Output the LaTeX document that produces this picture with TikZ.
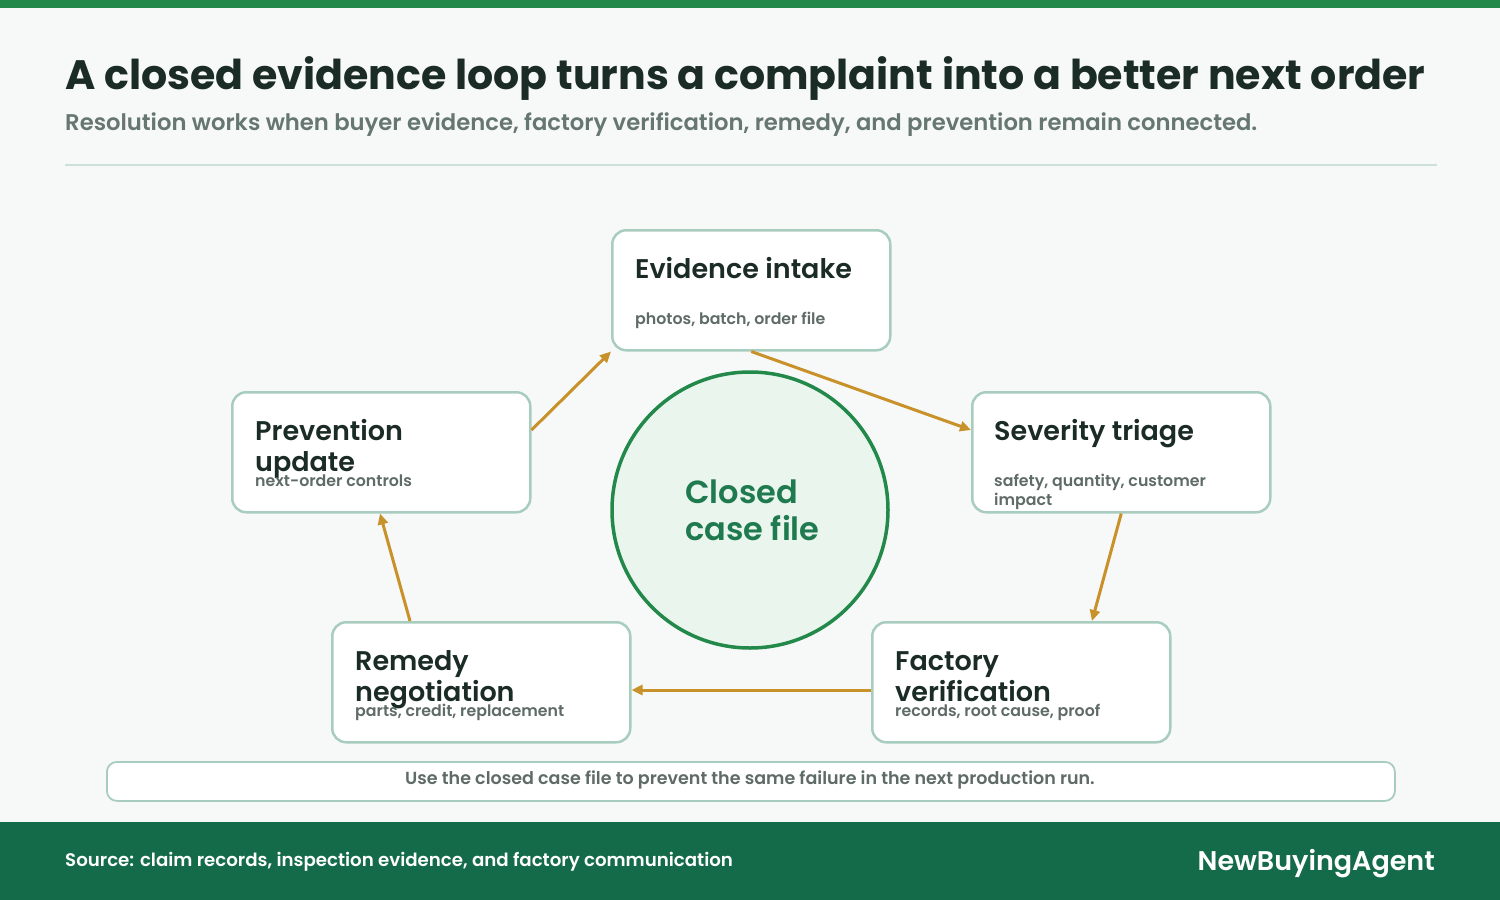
\documentclass[tikz,border=0pt]{standalone}
\usepackage{fontspec}
\setmainfont{Poppins}
\newfontfamily\pSB{Poppins SemiBold}
\newfontfamily\pB{Poppins Bold}
\newfontfamily\pM{Poppins Medium}
\usetikzlibrary{arrows.meta}
\definecolor{bg}{HTML}{F6F9F8}
\definecolor{band}{HTML}{23894A}
\definecolor{titlec}{HTML}{1B2B26}
\definecolor{subc}{HTML}{667670}
\definecolor{rulec}{HTML}{CCE0D9}
\definecolor{boxb}{HTML}{A8CDBE}
\definecolor{smallc}{HTML}{5F6B67}
\definecolor{gold}{HTML}{C8912A}
\definecolor{circb}{HTML}{23894A}
\definecolor{circf}{HTML}{EAF5EE}
\definecolor{circt}{HTML}{1F7A4F}
\definecolor{foot}{HTML}{146B4A}
\tikzset{
  stepbox/.style={draw=boxb, line width=2.5pt, fill=white, rounded corners=14pt, minimum width=298pt, minimum height=120pt, inner sep=0pt, anchor=north west},
  boxtitle/.style={anchor=base west, inner sep=0pt, text=titlec, font=\pSB\fontsize{27}{31}\selectfont, align=left},
  boxsub/.style={anchor=base west, inner sep=0pt, text=smallc, font=\pSB\fontsize{15.8}{19}\selectfont, align=left},
  flow/.style={draw=gold, line width=3pt, -{Triangle[length=11pt,width=10pt]}},
}
\begin{document}
\begin{tikzpicture}[x=1pt,y=-1pt]
\useasboundingbox (0,0) rectangle (1500,900);
\fill[bg] (0,0) rectangle (1500,900);
\fill[band] (0,0) rectangle (1500,8);
\node[anchor=base west, inner sep=0pt, text=titlec, font=\pB\fontsize{41.1}{50}\selectfont] (title) at (65,89) {A closed evidence loop turns a complaint into a better next order};
\node[anchor=base west, inner sep=0pt, text=subc, font=\pSB\fontsize{22.7}{26}\selectfont] (subtitle) at (65,130) {Resolution works when buyer evidence, factory verification, remedy, and prevention remain connected.};
\draw[rulec, line width=2pt] (65,165) -- (1437,165);

% circle
\node[circle, draw=circb, fill=circf, line width=3.5pt, minimum size=276pt, inner sep=0pt] (hub) at (750,510) {};
\node[anchor=base west, inner sep=0pt, text=circt, font=\pSB\fontsize{32}{37}\selectfont, align=left] (hubtext) at (685,540) {Closed\\case file};

% boxes
\node[stepbox, minimum width=278pt] (ev) at (611,229) {};
\node[stepbox] (sev) at (971,391) {};
\node[stepbox] (prev) at (231,391) {};
\node[stepbox] (rem) at (331,621) {};
\node[stepbox] (fac) at (871,621) {};

\node[boxtitle] (evt) at ([xshift=24pt,yshift=-49pt]ev.north west) {Evidence intake};
\node[boxsub] (evs) at ([xshift=24pt,yshift=-95pt]ev.north west) {photos, batch, order file};
\node[boxtitle] (sevt) at ([xshift=23pt,yshift=-49pt]sev.north west) {Severity triage};
\node[boxsub] (sevs) at ([xshift=23pt,yshift=-114pt]sev.north west) {safety, quantity, customer\\[-0.5pt]impact};
\node[boxtitle] (prevt) at ([xshift=24pt,yshift=-80pt]prev.north west) {Prevention\\update};
\node[boxsub] (prevs) at ([xshift=24pt,yshift=-95pt]prev.north west) {next-order controls};
\node[boxtitle] (remt) at ([xshift=24pt,yshift=-80pt]rem.north west) {Remedy\\negotiation};
\node[boxsub] (rems) at ([xshift=24pt,yshift=-95pt]rem.north west) {parts, credit, replacement};
\node[boxtitle] (fact) at ([xshift=24pt,yshift=-80pt]fac.north west) {Factory\\verification};
\node[boxsub] (facs) at ([xshift=24pt,yshift=-95pt]fac.north west) {records, root cause, proof};

% connectors
\coordinate (sevin) at ([yshift=-39pt]sev.north west);
\coordinate (facin) at ([xshift=221pt]fac.north west);
\coordinate (facout) at ([yshift=-69pt]fac.north west);
\coordinate (remin) at ([yshift=-69pt]rem.north east);
\coordinate (remout) at ([xshift=79pt]rem.north west);
\coordinate (previn) at ([xshift=149pt]prev.south west);
\coordinate (prevout) at ([yshift=-39pt]prev.north east);
\draw[flow] (ev.south) -- (sevin);
\draw[flow] (sev.south) -- (facin);
\draw[flow] (facout) -- (remin);
\draw[flow] (remout) -- (previn);
\draw[flow] (prevout) -- (ev.south west);

% note
\node[draw=boxb, line width=1.8pt, fill=white, rounded corners=10pt, minimum width=1288pt, minimum height=39pt, inner sep=0pt, anchor=north west] (note) at (106,761) {};
\node[text=smallc, font=\pSB\fontsize{17.5}{20}\selectfont, inner sep=0pt, anchor=base] (notet) at (750,784) {Use the closed case file to prevent the same failure in the next production run.};

% footer
\fill[foot] (0,822) rectangle (1500,900);
\node[anchor=base west, inner sep=0pt, text=white, font=\pSB\fontsize{18.2}{20}\selectfont] (src) at (65,866) {Source: claim records, inspection evidence, and factory communication};
\node[anchor=base east, inner sep=0pt, text=white, font=\pSB\fontsize{27}{30}\selectfont] (brand) at (1435,870) {NewBuyingAgent};
\end{tikzpicture}
\end{document}
